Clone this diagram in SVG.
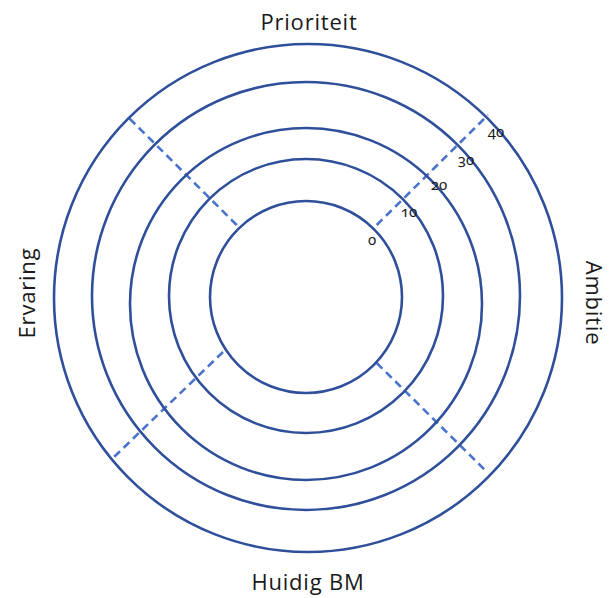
<svg xmlns="http://www.w3.org/2000/svg" width="610" height="598" viewBox="0 0 610 598">
<style>
.ring{fill:none;stroke:#2f4f9b;stroke-width:2.6}
.dash{fill:none;stroke:#4a74cc;stroke-width:2.6;stroke-dasharray:8 5}
.lbl{font-family:"Open Sans","Noto Sans",sans-serif;font-size:22px;letter-spacing:0.8px;fill:#1a1a1a;text-anchor:middle}
.num{font-family:"Noto Sans","Open Sans",sans-serif;font-size:15px;fill:#1a1a1a;text-anchor:middle;font-variant-numeric:oldstyle-nums;font-feature-settings:"onum"}
</style>
<rect width="610" height="598" fill="#ffffff"/>
<g id="connectors">
<line class="dash" x1="376.7" y1="225" x2="488" y2="115"/>
<line class="dash" x1="236.7" y1="225" x2="129" y2="118"/>
<line class="dash" x1="223" y1="352" x2="114" y2="457"/>
<line class="dash" x1="376.7" y1="363" x2="485" y2="470"/>
</g>
<g id="ring0"><circle class="ring" cx="306" cy="297" r="96"/></g>
<g id="ring10"><circle class="ring" cx="306" cy="296" r="137"/></g>
<g id="ring20"><circle class="ring" cx="306" cy="304" r="176"/></g>
<g id="ring30"><circle class="ring" cx="306" cy="296" r="214"/></g>
<g id="ring40"><circle class="ring" cx="308" cy="298" r="254"/></g>
<g id="scale">
<text class="num" x="372" y="245">0</text>
<text class="num" x="409" y="217">10</text>
<text class="num" x="439" y="190">20</text>
<text class="num" x="466" y="165">30</text>
<text class="num" x="496" y="137">40</text>
</g>
<g id="labels">
<text class="lbl" x="309" y="30">Prioriteit</text>
<text class="lbl" x="308" y="590">Huidig BM</text>
<text class="lbl" transform="translate(35,293) rotate(-90)">Ervaring</text>
<text class="lbl" transform="translate(586,303) rotate(90)">Ambitie</text>
</g>
</svg>
